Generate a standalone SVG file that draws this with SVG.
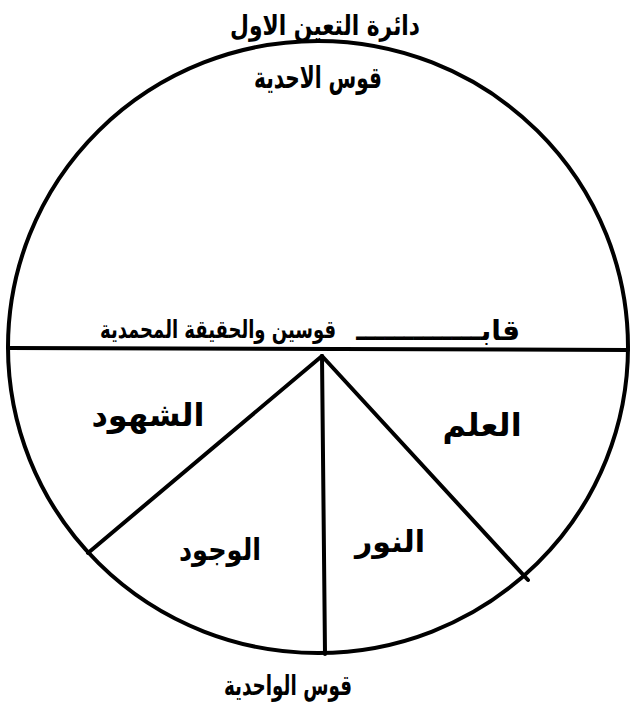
<svg xmlns="http://www.w3.org/2000/svg" width="635" height="706" viewBox="0 0 635 706">
<style>
.t{font-family:"DejaVu Sans",sans-serif;font-weight:bold;fill:#000;text-anchor:middle}
.l{stroke:#000;stroke-width:4;fill:none;stroke-linecap:round}
</style>
<rect width="635" height="706" fill="#fff"/>
<g id="circle"><ellipse cx="318" cy="347" rx="310" ry="306" class="l"/></g>
<g id="connectors">
<line x1="8" y1="348" x2="628" y2="350" class="l"/>
<line x1="322" y1="356" x2="325" y2="654" class="l"/>
<line x1="322" y1="356" x2="88" y2="553" class="l"/>
<line x1="322" y1="356" x2="528" y2="580" class="l"/>
</g>
<g id="title"><text class="t" x="325" y="35" font-size="28" textLength="190" lengthAdjust="spacingAndGlyphs">دائرة التعين الاول</text></g>
<g id="ahadiya"><text class="t" x="318" y="88" font-size="30" textLength="128" lengthAdjust="spacingAndGlyphs">قوس الاحدية</text></g>
<g id="qab"><text class="t" x="520" y="340" font-size="28" style="text-anchor:end">قابـــــــــــــ</text>
<text class="t" transform="translate(218,338) scale(1,1.4)" x="0" y="0" font-size="18">قوسين والحقيقة المحمدية</text></g>
<g id="shuhud"><text class="t" x="148" y="426" font-size="32">الشهود</text></g>
<g id="ilm"><text class="t" x="482" y="436" font-size="32">العلم</text></g>
<g id="wujud"><text class="t" x="220" y="560" font-size="30" textLength="82" lengthAdjust="spacingAndGlyphs">الوجود</text></g>
<g id="nur"><text class="t" x="390" y="552" font-size="30">النور</text></g>
<g id="wahidiya"><text class="t" x="288" y="695" font-size="28" textLength="128" lengthAdjust="spacingAndGlyphs">قوس الواحدية</text></g>
</svg>
